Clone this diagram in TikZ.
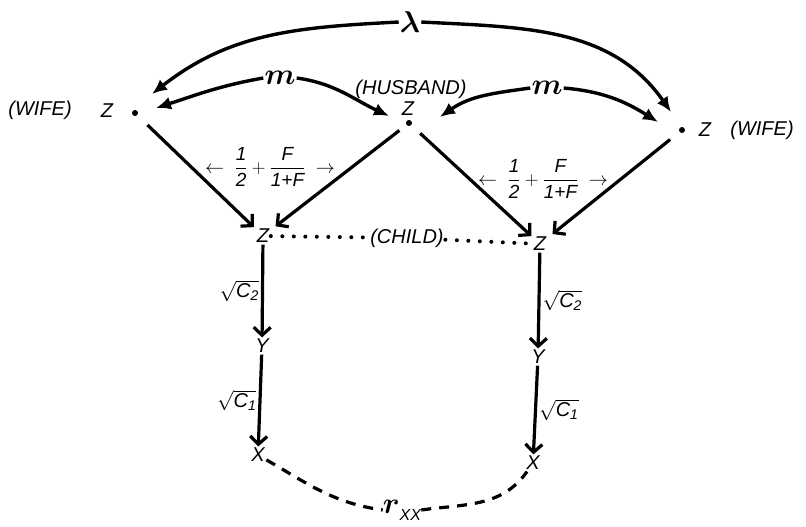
\RequirePackage{fix-cm}
\documentclass[tikz,border=0pt]{standalone}
\usepackage{amsmath,bm}
\usepackage{fontspec}
\setmainfont{Liberation Sans}
\usetikzlibrary{arrows.meta}
\begin{document}
\begin{tikzpicture}[x=1pt,y=-1pt,
  lab/.style={font=\fontsize{20}{22}\selectfont\itshape, inner sep=1.5pt},
  sym/.style={font=\fontsize{30}{30}\selectfont, inner sep=1pt},
  sq/.style={font=\fontsize{20}{22}\selectfont\itshape, inner sep=2pt},
  frac/.style={font=\fontsize{19}{21}\selectfont\itshape, inner sep=1pt},
  dotn/.style={circle, fill, inner sep=0pt, minimum size=6pt},
  arr/.style={line width=3.2pt, -{Straight Barb[length=8pt,width=17pt]}},
  carr/.style={line width=3.4pt, -{Latex[length=15pt,width=13pt]}},
  chain/.style={line width=4pt, line cap=round, dash pattern=on 0pt off 11.5pt},
  corr/.style={line width=3.2pt, dash pattern=on 10pt off 8pt},
  ]
\useasboundingbox (0,0) rectangle (806,527);

% people
\node[lab] (wLlab) at (40,110) {(WIFE)};
\node[lab] (wLz) at (107,111) {Z};
\node[dotn] (wLd) at (135,113) {};
\node[lab] (hlab) at (411,89) {(HUSBAND)};
\node[lab] (hZ) at (408,109) {Z};
\node[dotn] (hd) at (409,123) {};
\node[dotn] (wRd) at (682,130) {};
\node[lab] (wRz) at (705,130) {Z};
\node[lab] (wRlab) at (762,130) {(WIFE)};

% symbols
\node[sym] (lam) at (410,22) {$\bm\lambda$};
\node[sym] (mL) at (280,78) {$\bm m$};
\node[sym] (mR) at (547,88) {$\bm m$};

% children and measures
\node[lab] (cL) at (263,236) {Z};
\node[lab] (cR) at (540,244) {Z};
\node[lab] (child) at (407,238) {(CHILD)};
\node[lab] (yL) at (262,346) {Y};
\node[lab] (yR) at (538,357) {Y};
\node[lab] (xL) at (258,455) {X};
\node[lab] (xR) at (533,463) {X};
\node[inner sep=0pt] (rxx) at (402,510) {\fontsize{30}{30}\selectfont$\bm r$\raisebox{-7pt}{\fontsize{16}{16}\selectfont\itshape XX}};

% arrow tip coordinates
\coordinate (tLl) at (152,94);
\coordinate (tLm) at (156,108);
\coordinate (tHl) at (389,116);
\coordinate (tHr) at (440,117);
\coordinate (tRm) at (658,122);
\coordinate (tRl) at (671,112);

% curved arrows
\draw[carr] (lam.west) to[out=183,in=38] (tLl);
\draw[carr] (lam.east) to[out=-3,in=125] (tRl);
\draw[carr] (mL.west) to[out=190,in=18] (tLm);
\draw[carr] (mL.east) to[out=-8,in=155] (tHl);
\draw[carr] (mR.west) to[out=188,in=35] (tHr);
\draw[carr] (mR.east) to[out=-5,in=148] (tRm);

% paths to children
\draw[arr, shorten <=14pt, shorten >=2pt] (wLd) -- (cL);
\draw[arr, shorten <=9pt, shorten >=6pt] (hd) -- (cL);
\draw[arr, shorten <=12pt, shorten >=1pt] (hd) -- (cR);
\draw[arr, shorten <=12pt, shorten >=6pt] (wRd) -- (cR);

\node[frac] (fL) at (270,167) {$\leftarrow\;\dfrac{\text{1}}{\text{2}} + \dfrac{\text{F}}{\text{1+F}}\;\rightarrow$};
\node[frac] (fR) at (543,179) {$\leftarrow\;\dfrac{\text{1}}{\text{2}} + \dfrac{\text{F}}{\text{1+F}}\;\rightarrow$};

% child correlation
\draw[chain] (cL) -- (child);
\draw[chain] (child) -- (cR);

% vertical paths
\draw[arr] (cL) -- node[sq, left] {$\sqrt{\text{C}_\text{2}}$} (yL);
\draw[arr] (yL) -- node[sq, left] {$\sqrt{\text{C}_\text{1}}$} (xL);
\draw[arr] (cR) -- node[sq, right] {$\sqrt{\text{C}_\text{2}}$} (yR);
\draw[arr] (yR) -- node[sq, right] {$\sqrt{\text{C}_\text{1}}$} (xR);

% measured correlation
\draw[corr] (xL) to[out=-30,in=172] (rxx.west);
\draw[corr] (rxx.east) to[out=8,in=-125] (xR);
\end{tikzpicture}
\end{document}
